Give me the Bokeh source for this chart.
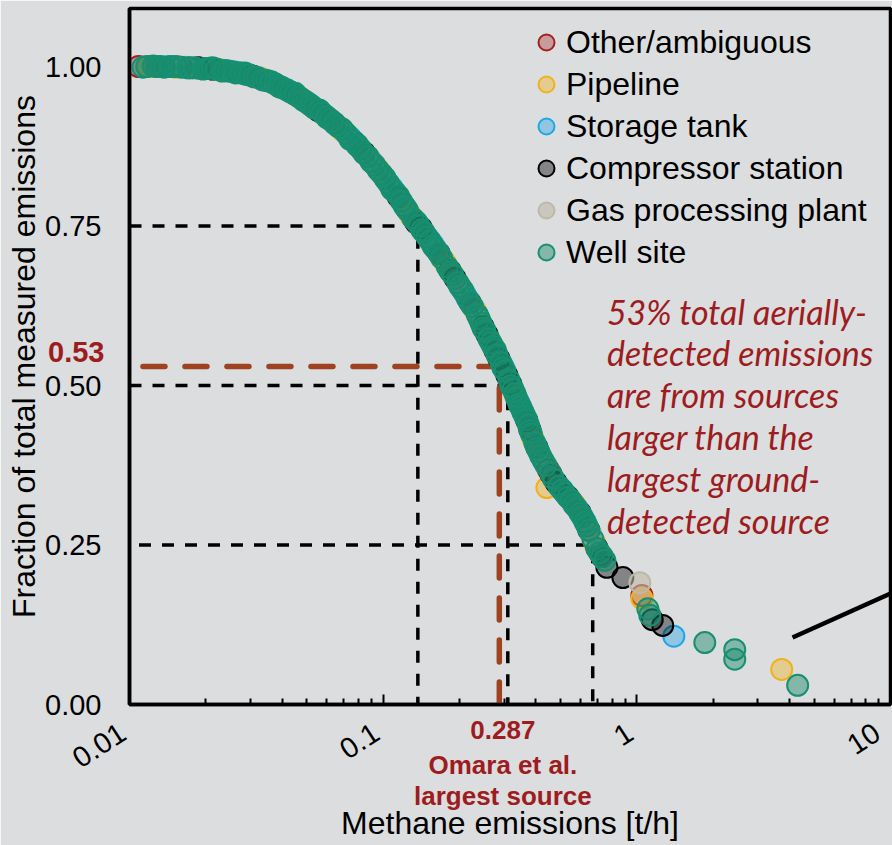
from bokeh.plotting import figure
from bokeh.models import (Range1d, FixedTicker, NumeralTickFormatter, CustomJSTickFormatter,
                          Label, LinearAxis, LogAxis, Legend, LegendItem)
from bokeh.embed import file_html
from bokeh.resources import INLINE

# ---------------- data ----------------
other_x = [0.01085, 0.448, 1.047]
other_y = [1.000, 0.368, 0.171]

pipeline_x = [0.0121, 0.01518, 0.02281, 0.0334, 0.04842, 0.06897, 0.09558, 0.1278,
              0.1754, 0.2304, 0.3305, 0.3894, 0.442, 0.5651, 0.684, 1.047, 3.725]
pipeline_y = [1.000, 0.999, 0.995, 0.981, 0.948, 0.900, 0.839, 0.768,
              0.693, 0.618, 0.487, 0.417, 0.340, 0.315, 0.252, 0.166, 0.055]

storage_x = [0.0142, 0.02637, 0.0415, 0.07413, 0.1085, 0.1573, 0.2104, 0.2966,
             0.3427, 0.3553, 0.5073, 0.6245, 1.399]
storage_y = [1.000, 0.991, 0.964, 0.889, 0.810, 0.721, 0.643, 0.530,
             0.473, 0.459, 0.337, 0.287, 0.107]

compressor_x = [0.0187, 0.02122, 0.03078, 0.05548, 0.0842, 0.1146, 0.1349, 0.1412,
                0.1661, 0.1836, 0.1921, 0.2202, 0.2477, 0.2567, 0.276, 0.2861,
                0.3075, 0.3188, 0.3683, 0.3788, 0.4037, 0.4587, 0.4802, 0.5351,
                0.5969, 0.6477, 0.6966, 0.7285, 0.762, 0.881, 1.15, 1.265]
compressor_y = [0.998, 0.996, 0.985, 0.931, 0.865, 0.796, 0.755, 0.747,
                0.707, 0.680, 0.668, 0.630, 0.592, 0.580, 0.555, 0.542,
                0.516, 0.502, 0.445, 0.431, 0.403, 0.361, 0.348, 0.326,
                0.301, 0.273, 0.245, 0.232, 0.215, 0.199, 0.133, 0.124]

gas_x = [0.01662, 0.03591, 0.08974, 0.2011, 0.66, 1.028]
gas_y = [0.999, 0.976, 0.853, 0.655, 0.266, 0.191]

well_x = [0.0113, 0.0117, 0.0124, 0.0128, 0.01324, 0.0137, 0.0146, 0.0153, 0.016,
          0.017, 0.01738, 0.0181, 0.0195, 0.01991, 0.0205, 0.0212, 0.022, 0.0232,
          0.0238, 0.02454, 0.0255, 0.0262, 0.0275, 0.0285, 0.02862, 0.0296, 0.031,
          0.032, 0.0335, 0.0348, 0.0362, 0.0375, 0.03862, 0.039, 0.04, 0.042, 0.0432,
          0.045, 0.04505, 0.0467, 0.0485, 0.05, 0.05161, 0.052, 0.0535, 0.056, 0.0575,
          0.05966, 0.06, 0.0618, 0.06412, 0.0645, 0.0665, 0.069, 0.0715, 0.074, 0.0765,
          0.079, 0.07904, 0.0815, 0.084, 0.087, 0.0895, 0.0925, 0.0955, 0.0985, 0.1015,
          0.1018, 0.105, 0.108, 0.1115, 0.115, 0.118, 0.121, 0.1225, 0.1245, 0.131,
          0.135, 0.138, 0.142, 0.145, 0.149, 0.153, 0.157, 0.161, 0.166, 0.17, 0.179,
          0.184, 0.188, 0.197, 0.201, 0.206, 0.215, 0.22, 0.225, 0.235, 0.239, 0.243,
          0.2475, 0.252, 0.261, 0.2662, 0.271, 0.2765, 0.281, 0.291, 0.2965, 0.302,
          0.313, 0.319, 0.325, 0.331, 0.336, 0.343, 0.349, 0.356, 0.362, 0.368, 0.374,
          0.379, 0.384, 0.396, 0.404, 0.411, 0.4185, 0.428, 0.4382, 0.458, 0.469,
          0.493, 0.508, 0.52, 0.535, 0.55, 0.565, 0.58, 0.597, 0.61, 0.625, 0.636,
          0.648, 0.6716, 0.697, 0.712, 0.729, 0.748, 1.105, 1.125, 1.853, 2.432,
          2.432, 4.305]
well_y = [0.999, 1.000, 1.001, 1.000, 1.000, 0.999, 1.000, 1.000, 0.999,
          0.998, 0.998, 0.998, 0.996, 0.997, 0.997, 0.998, 0.996, 0.993,
          0.994, 0.993, 0.992, 0.990, 0.990, 0.990, 0.988, 0.987, 0.984,
          0.983, 0.979, 0.978, 0.976, 0.973, 0.970, 0.968, 0.967, 0.963, 0.960,
          0.958, 0.956, 0.952, 0.947, 0.944, 0.940, 0.939, 0.935, 0.932, 0.927,
          0.922, 0.920, 0.917, 0.912, 0.910, 0.906, 0.902, 0.895, 0.886, 0.883,
          0.878, 0.876, 0.871, 0.864, 0.859, 0.851, 0.846, 0.838, 0.832, 0.826,
          0.824, 0.817, 0.808, 0.803, 0.797, 0.789, 0.782, 0.779, 0.775, 0.762,
          0.757, 0.752, 0.744, 0.740, 0.733, 0.727, 0.719, 0.714, 0.707, 0.700, 0.686,
          0.679, 0.674, 0.661, 0.655, 0.649, 0.636, 0.630, 0.624, 0.611, 0.605, 0.598,
          0.590, 0.586, 0.573, 0.567, 0.561, 0.556, 0.548, 0.536, 0.528, 0.523,
          0.509, 0.500, 0.494, 0.487, 0.480, 0.471, 0.466, 0.458, 0.452, 0.446, 0.438,
          0.430, 0.424, 0.410, 0.402, 0.396, 0.389, 0.382, 0.375, 0.362, 0.354,
          0.342, 0.336, 0.331, 0.325, 0.320, 0.313, 0.308, 0.300, 0.294, 0.286, 0.280,
          0.273, 0.259, 0.244, 0.238, 0.232, 0.226, 0.150, 0.140, 0.097, 0.086,
          0.071, 0.030]

categories = ["Other/ambiguous", "Pipeline", "Storage tank",
              "Compressor station", "Gas processing plant", "Well site"]

# guide lines: fraction level -> source size where the curve reaches it
guide_levels = [0.75, 0.50, 0.25]
guide_sizes = [0.137, 0.31, 0.67]
guide_starts = [0.01, 0.01, 0.0109]

ground_largest = 0.287     # Omara et al. largest source [t/h]
ground_fraction = 0.53
ground_start = 0.0113
ground_text = [f"{ground_largest:.3f}", "Omara et al.", "largest source"]
ground_text_x = 0.2965     # where the ground-source note is centred
fraction_label_y = 0.552   # where the 0.53 note sits on the y axis

pointer_x = [4.11, 10.0]
pointer_y = [0.105, 0.174]

x_major_ticks = [0.01, 0.1, 1, 10]
x_tick_labels = ["0.01", "0.1", "1", "10"]
x_minor_ticks = [m * d for d in (0.01, 0.1, 1) for m in range(2, 10)]
y_ticks = [0.0, 0.25, 0.5, 0.75, 1.0]

annotation_lines = ["53% total aerially-", "detected emissions", "are from sources",
                    "larger than the", "largest ground-", "detected source"]
annotation_y = [0.616, 0.552, 0.486, 0.420, 0.354, 0.288]

# ---------------- styling ----------------
BG = "#dcdddf"
RED = "#9d1c20"
FONT = "Liberation Sans"

styles = {
    "Other/ambiguous": dict(line_color="#a3201f", fill_color="#a3201f", fill_alpha=0.35),
    "Pipeline": dict(line_color="#efb21a", fill_color="#efb21a", fill_alpha=0.4),
    "Storage tank": dict(line_color="#1ea6e6", fill_color="#1ea6e6", fill_alpha=0.4),
    "Compressor station": dict(line_color="#000000", fill_color="#000000", fill_alpha=0.4),
    "Gas processing plant": dict(line_color="#bdb9a8", fill_color="#bdb9a8", fill_alpha=0.6),
    "Well site": dict(line_color="#178f71", fill_color="#178a6a", fill_alpha=0.45),
}

p = figure(width=892, height=845, x_axis_type="log",
           x_range=Range1d(0.01, 10), y_range=Range1d(0, 1.091),
           x_axis_location=None, y_axis_location=None,
           output_backend="svg", toolbar_location=None,
           min_border_left=129, min_border_right=2,
           min_border_top=8, min_border_bottom=141)

p.background_fill_color = BG
p.border_fill_color = BG
p.outline_line_color = "black"
p.outline_line_width = 3.5
for g in p.grid:
    g.visible = False

# guide lines (under the points)
for lvl, sz, x0 in zip(guide_levels, guide_sizes, guide_starts):
    p.line([x0, sz, sz], [lvl, lvl, 0], line_color="black", line_width=3.5,
           line_dash="12 11")
p.line([ground_start, ground_largest, ground_largest], [ground_fraction, ground_fraction, 0],
       line_color="#9e4220", line_width=5.5, line_dash="22 20", line_cap="round")
p.line(pointer_x, pointer_y, line_color="black", line_width=4.5)

series = {
    "Other/ambiguous": (other_x, other_y),
    "Pipeline": (pipeline_x, pipeline_y),
    "Storage tank": (storage_x, storage_y),
    "Compressor station": (compressor_x, compressor_y),
    "Gas processing plant": (gas_x, gas_y),
    "Well site": (well_x, well_y),
}
renderers = {}
for name in categories:
    xs, ys = series[name]
    renderers[name] = p.scatter(xs, ys, size=21, line_width=2, line_alpha=1.0,
                                **styles[name])

# ---------------- axes ----------------
hidden = dict(axis_line_color=None, major_tick_line_color=None, minor_tick_line_color=None,
              major_tick_out=0, major_tick_in=0, minor_tick_out=0, minor_tick_in=0)

# inner x axis: ticks and rotated tick labels
x_inner = LogAxis(
    ticker=FixedTicker(ticks=x_major_ticks, minor_ticks=x_minor_ticks),
    formatter=CustomJSTickFormatter(
        args=dict(tick_values=x_major_ticks, tick_names=x_tick_labels),
        code="""
const i = tick_values.findIndex(t => Math.abs(Math.log10(t) - Math.log10(tick)) < 1e-6);
return (i >= 0 ? tick_names[i] : tick.toString()) + '\\u00a0';
"""),
    major_label_orientation=0.576, major_label_standoff=21,
    major_tick_in=10, major_tick_out=0, minor_tick_in=6, minor_tick_out=0,
    major_tick_line_width=2, minor_tick_line_width=2,
    axis_line_width=3.5, axis_line_color="black",
    major_label_text_font=FONT, major_label_text_font_size="29px",
    major_label_text_color="black")
p.add_layout(x_inner, "below")

# outer x axes: one line of the ground-study note each, the last carries the title
note_standoffs = [-70, -41, -10]
for k, (line, so) in enumerate(zip(ground_text, note_standoffs)):
    ax = LogAxis(
        ticker=FixedTicker(ticks=[ground_text_x], minor_ticks=[]),
        formatter=CustomJSTickFormatter(args=dict(note=line), code="return note;"),
        major_label_standoff=so, major_label_orientation="horizontal",
        major_label_text_font=FONT, major_label_text_font_size="26px",
        major_label_text_font_style="bold", major_label_text_color=RED, **hidden)
    if k == len(ground_text) - 1:
        ax.axis_label = "Methane emissions [t/h]"
        ax.axis_label_standoff = -9
        ax.axis_label_text_font = FONT
        ax.axis_label_text_font_size = "32px"
        ax.axis_label_text_font_style = "normal"
        ax.axis_label_text_color = "black"
    p.add_layout(ax, "below")

# inner y axis: axis line and the 0.53 note
y_inner = LinearAxis(
    ticker=FixedTicker(ticks=[fraction_label_y], minor_ticks=[]),
    formatter=CustomJSTickFormatter(args=dict(note=f"{ground_fraction:.2f}"),
                                    code="return note;"),
    major_label_standoff=25,
    major_label_text_font=FONT, major_label_text_font_size="29px",
    major_label_text_font_style="bold", major_label_text_color=RED,
    major_tick_line_color=None, minor_tick_line_color=None,
    major_tick_out=0, major_tick_in=0, minor_tick_out=0, minor_tick_in=0,
    axis_line_width=3.5, axis_line_color="black")
# outer y axis: tick labels and title
y_outer = LinearAxis(
    ticker=FixedTicker(ticks=y_ticks, minor_ticks=[]),
    formatter=NumeralTickFormatter(format="0.00"),
    major_label_standoff=-56,
    major_label_text_font=FONT, major_label_text_font_size="29px",
    major_label_text_color="black",
    axis_label="Fraction of total measured emissions", axis_label_standoff=0,
    axis_label_text_font=FONT, axis_label_text_font_size="32px",
    axis_label_text_font_style="normal", axis_label_text_color="black", **hidden)
p.add_layout(y_inner, "left")
p.add_layout(y_outer, "left")

# ---------------- legend ----------------
lg = Legend(items=[LegendItem(label=c, renderers=[renderers[c]]) for c in categories],
            location=(397, 431), glyph_width=40, glyph_height=42, spacing=0,
            label_standoff=0, padding=0, margin=0, background_fill_alpha=0,
            border_line_color=None, label_text_font=FONT,
            label_text_font_size="32px", label_text_color="black")
p.add_layout(lg)

# ---------------- annotation ----------------
for txt, yy in zip(annotation_lines, annotation_y):
    p.add_layout(Label(x=0.762, y=yy, text=txt, text_align="left",
                       text_baseline="middle", text_font="Lato",
                       text_font_size="34px", text_font_style="italic", text_color=RED))

open("out.html", "w").write(file_html(p, INLINE))
